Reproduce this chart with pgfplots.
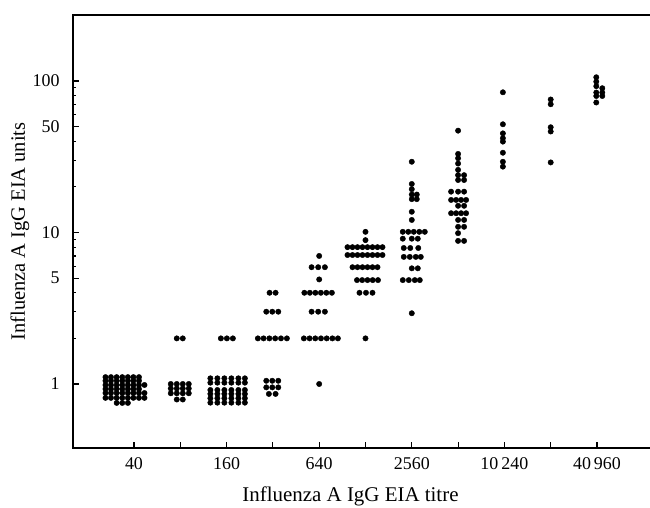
\documentclass[border=0pt]{standalone}
\usepackage{fontspec}
\setmainfont{Liberation Serif}
\usepackage{pgfplots}
\pgfplotsset{compat=1.18}
\usepackage{pgfplotstable}

\pgfplotstableread{
i dx y
0 -28.5 1.11
0 -23 1.11
0 -17.3 1.11
0 -11.7 1.11
0 -6.1 1.11
0 -0.6 1.11
0 5 1.11
0 -28.5 1.05
0 -23 1.05
0 -17.3 1.05
0 -11.7 1.05
0 -6.1 1.05
0 -0.6 1.05
0 5 1.05
0 -28.5 0.985
0 -23 0.985
0 -17.3 0.985
0 -11.7 0.985
0 -6.1 0.985
0 -0.6 0.985
0 5 0.985
0 10.5 0.985
0 -28.5 0.927
0 -23 0.927
0 -17.3 0.927
0 -11.7 0.927
0 -6.1 0.927
0 -0.6 0.927
0 5 0.927
0 -28.5 0.872
0 -23 0.872
0 -17.3 0.872
0 -11.7 0.872
0 -6.1 0.872
0 -0.6 0.872
0 5 0.872
0 10.5 0.872
0 -28.5 0.81
0 -23 0.81
0 -17.3 0.81
0 -11.7 0.81
0 -6.1 0.81
0 -0.6 0.81
0 5 0.81
0 10.5 0.81
0 -17.3 0.75
0 -11.7 0.75
0 -6.1 0.75
1 -3.5 2.0
1 2.5 2.0
1 -9.5 1.0
1 -3.5 1.0
1 2.5 1.0
1 8.5 1.0
1 -9.5 0.934
1 -3.5 0.934
1 2.5 0.934
1 8.5 0.934
1 -9.5 0.868
1 -3.5 0.868
1 2.5 0.868
1 8.5 0.868
1 -3.5 0.79
1 2.5 0.79
2 -5.7 2.0
2 0.3 2.0
2 6.3 2.0
2 -16.2 1.09
2 -9.2 1.09
2 -2.2 1.09
2 4.8 1.09
2 11.8 1.09
2 18.3 1.09
2 -16.2 1.02
2 -9.2 1.02
2 -2.2 1.02
2 4.8 1.02
2 11.8 1.02
2 18.3 1.02
2 -16.2 0.913
2 -9.2 0.913
2 -2.2 0.913
2 4.8 0.913
2 11.8 0.913
2 18.3 0.913
2 -16.2 0.86
2 -9.2 0.86
2 -2.2 0.86
2 4.8 0.86
2 11.8 0.86
2 18.3 0.86
2 -16.2 0.805
2 -9.2 0.805
2 -2.2 0.805
2 4.8 0.805
2 11.8 0.805
2 18.3 0.805
2 -16.2 0.753
2 -9.2 0.753
2 -2.2 0.753
2 4.8 0.753
2 11.8 0.753
2 18.3 0.753
3 -3.3 4.0
3 2.7 4.0
3 -6.6 3.0
3 -0.6 3.0
3 5.4 3.0
3 -15 2.0
3 -9.3 2.0
3 -3.5 2.0
3 2.3 2.0
3 8.1 2.0
3 14 2.0
3 -6.6 1.05
3 -0.6 1.05
3 5.4 1.05
3 -6.6 0.95
3 -0.6 0.95
3 5.4 0.95
3 -4 0.86
3 2.7 0.86
4 0 7.0
4 -7.6 5.9
4 -1 5.9
4 5.7 5.9
4 0 4.9
4 -14.8 4.0
4 -9.3 4.0
4 -3.8 4.0
4 1.7 4.0
4 7.2 4.0
4 12.7 4.0
4 -7.6 3.0
4 -1 3.0
4 5.7 3.0
4 -15.3 2.0
4 -9.6 2.0
4 -3.9 2.0
4 1.8 2.0
4 7.5 2.0
4 13.2 2.0
4 18.7 2.0
4 0 1.0
5 0 10.1
5 0 8.9
5 -18 8.0
5 -13 8.0
5 -8 8.0
5 -3 8.0
5 2 8.0
5 7 8.0
5 12 8.0
5 17 8.0
5 -18 7.1
5 -13 7.1
5 -8 7.1
5 -3 7.1
5 2 7.1
5 7 7.1
5 12 7.1
5 17 7.1
5 -13 5.9
5 -8 5.9
5 -3 5.9
5 2 5.9
5 7 5.9
5 12 5.9
5 -8.5 4.85
5 -3.3 4.85
5 2 4.85
5 7.2 4.85
5 12.5 4.85
5 -6 4.0
5 0.5 4.0
5 7 4.0
5 0 2.0
6 0 29.3
6 0 20.9
6 0 19.3
6 0 17.8
6 5 17.8
6 0 16.6
6 5 16.6
6 0 13.7
6 0 12.1
6 -9 10.1
6 -3.5 10.1
6 2 10.1
6 7.5 10.1
6 13 10.1
6 -9 9.1
6 0 9.1
6 6 9.1
6 -8 7.9
6 -1.5 7.9
6 6.5 7.9
6 -8 6.9
6 -2 6.9
6 4 6.9
6 9 6.9
6 0 5.8
6 6 5.8
6 -9 4.85
6 -3 4.85
6 3 4.85
6 8 4.85
6 0 2.93
7 0 47
7 0 33
7 0 30.9
7 0 28.5
7 0 25.9
7 0 23.9
7 6 23.9
7 0 22.2
7 6 22.2
7 -7 18.6
7 0 18.6
7 6 18.6
7 -7 16.4
7 -2 16.4
7 3 16.4
7 8 16.4
7 0 15.0
7 6 15.0
7 -7 13.4
7 -2 13.4
7 3 13.4
7 8 13.4
7 0 12.1
7 6 12.1
7 0 10.9
7 6 10.9
7 0 9.9
7 0 8.8
7 6 8.8
8 -1.5 84.2
8 -1.5 51.8
8 -1.5 45.1
8 -1.5 41.9
8 -1.5 39.8
8 -1.5 33.6
8 -1.5 29.3
8 -1.5 27.2
9 0 75.5
9 0 70.2
9 0 49.5
9 0 46.4
9 0 29.0
10 -0.7 105.8
10 -0.7 99
10 -0.7 92.4
10 5.3 89.6
10 -0.7 83.9
10 5.3 83.9
10 -0.7 79.6
10 5.3 79.6
10 -0.7 72.1
}\data

\begin{document}
\begin{tikzpicture}
\begin{axis}[
  scale only axis,
  width=579bp, height=433bp,
  ymode=log,
  xmin=-1.317, xmax=11.188,
  ymin=0.378, ymax=272.6,
  xtick={0,1,2,3,4,5,6,7,8,9,10},
  xticklabels={40,,160,,640,,2560,,10\,240,,40\,960},
  ytick={1,5,10,50,100},
  yticklabels={1,5,10,50,100},
  minor ytick={2,3,4,6,7,8,9,20,30,40,60,70,80,90},
  xtick pos=bottom, ytick pos=left,
  tick align=inside,
  major tick length=6bp, minor tick length=3.5bp,
  every tick/.style={black, line width=1.1pt},
  axis line style={line width=1.2pt},
  ticklabel style={font=\fontsize{18}{18}\selectfont},
  xticklabel style={yshift=-6bp},
  yticklabel style={xshift=-10bp},
  xlabel={Influenza A IgG EIA titre},
  ylabel={Influenza A IgG EIA units},
  every axis x label/.style={at={(axis description cs:0.5,0)}, xshift=-12bp, yshift=-48bp, anchor=center, font=\fontsize{21}{21}\selectfont},
  every axis y label/.style={at={(axis description cs:0,0.5)}, xshift=-53bp, rotate=90, anchor=center, font=\fontsize{20.5}{20.5}\selectfont},
]
\addplot[only marks, mark=*, mark size=2.7bp, black] table[x expr=\thisrow{i}+\thisrow{dx}/46.3, y=y] {\data};
\end{axis}
\pgfresetboundingbox
\path[use as bounding box] ([xshift=-73bp,yshift=-60bp]current axis.south west) rectangle ([xshift=-2bp,yshift=15bp]current axis.north east);
\end{tikzpicture}
\end{document}
